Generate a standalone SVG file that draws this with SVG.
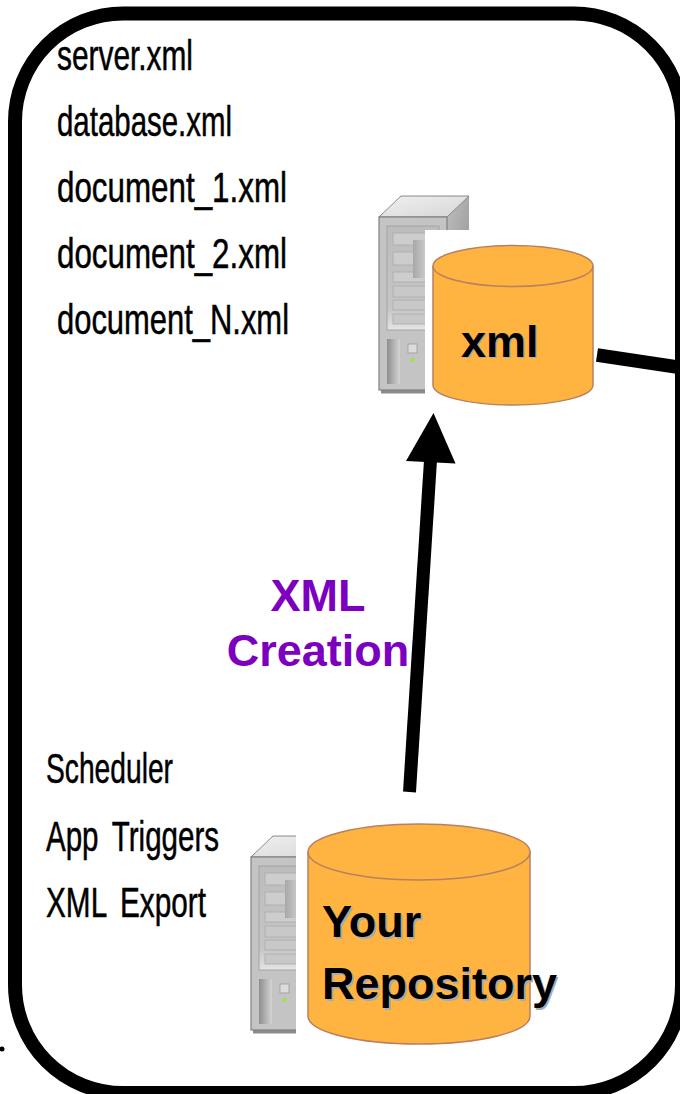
<svg xmlns="http://www.w3.org/2000/svg" width="680" height="1094" viewBox="0 0 680 1094">
<defs>
<filter id="soft" x="-5%" y="-5%" width="110%" height="110%"><feGaussianBlur stdDeviation="0.45"/></filter>
<linearGradient id="side" x1="0" y1="0" x2="1" y2="0"><stop offset="0" stop-color="#8e8e8e"/><stop offset="1" stop-color="#d4d4d4"/></linearGradient>
<linearGradient id="roof" x1="0" y1="0" x2="1" y2="1"><stop offset="0" stop-color="#f0f0f0"/><stop offset="1" stop-color="#d6d6d6"/></linearGradient>
<linearGradient id="wall" x1="0" y1="0" x2="1" y2="1"><stop offset="0" stop-color="#bdbdbd"/><stop offset="1" stop-color="#969696"/></linearGradient>
<linearGradient id="panel" x1="0" y1="0" x2="0" y2="1"><stop offset="0" stop-color="#bcbcbc"/><stop offset="0.8" stop-color="#c6c6c6"/><stop offset="1" stop-color="#e4e4e4"/></linearGradient>
<linearGradient id="drive" x1="0" y1="0" x2="1" y2="0"><stop offset="0" stop-color="#a8a8a8"/><stop offset="1" stop-color="#e2e2e2"/></linearGradient>
<g id="tower" filter="url(#soft)">
<path d="M68 21 L90 0 L90 72 L68 92 Z" fill="url(#wall)"/>
<path d="M0 21 L22 0 L90 0 L68 21 Z" fill="url(#roof)" stroke="#6e6e6e" stroke-width="0.8"/>
<path d="M2 194 h66 v3.5 h-66 z" fill="#8c8c8c"/>
<rect x="0" y="21" width="68" height="173" fill="#c4c4c4" stroke="#808080" stroke-width="1.2"/>
<rect x="8" y="30" width="52" height="104" fill="url(#panel)" stroke="#a4a4a4" stroke-width="1"/>
<rect x="14" y="37" width="42" height="12" fill="#cdcdcd" stroke="#aaa" stroke-width="0.8"/>
<rect x="14" y="56" width="42" height="13" fill="#cdcdcd" stroke="#aaa" stroke-width="0.8"/>
<rect x="14" y="76" width="42" height="10" fill="#cdcdcd" stroke="#aaa" stroke-width="0.8"/>
<rect x="14" y="90" width="42" height="11" fill="#c8c8c8" stroke="#aaa" stroke-width="0.8"/>
<rect x="14" y="104" width="42" height="10" fill="#c8c8c8" stroke="#aaa" stroke-width="0.8"/>
<rect x="14" y="118" width="42" height="10" fill="#c8c8c8" stroke="#aaa" stroke-width="0.8"/>
<rect x="34" y="44" width="22" height="38" fill="url(#drive)"/>
<rect x="8" y="143" width="13" height="45" fill="url(#side)"/>
<rect x="29" y="148" width="9" height="9" fill="#dcdcdc" stroke="#9c9c9c" stroke-width="0.8"/>
<circle cx="33.7" cy="163.7" r="2" fill="#a6e22e"/>
</g>
</defs>
<style>
.list{font-family:"Liberation Sans",Arial,sans-serif;font-size:42px;fill:#000;stroke:#000;stroke-width:0.5px}
.label{font-family:"Liberation Sans",Arial,sans-serif;font-weight:700;fill:#000;font-size:45px}
.shadow{font-family:"Liberation Sans",Arial,sans-serif;font-weight:700;fill:#a8acb4;font-size:45px}
.cyl{fill:#ffb340;stroke:#b98060;stroke-width:1.5}
.purple{font-family:"Liberation Sans",Arial,sans-serif;font-weight:700;font-size:45px;fill:#7b00bf;text-anchor:middle}
</style>
<rect width="680" height="1094" fill="#fff"/>

<g id="frame"><rect x="15" y="13.5" width="667" height="1079.5" rx="108" ry="108" fill="none" stroke="#000" stroke-width="14"/><circle cx="2" cy="1049" r="2.5" fill="#000"/></g>

<g id="file-list">
<text class="list" x="57" y="70" textLength="136" lengthAdjust="spacingAndGlyphs">server.xml</text>
<text class="list" x="57" y="136" textLength="175" lengthAdjust="spacingAndGlyphs">database.xml</text>
<text class="list" x="57" y="202" textLength="230" lengthAdjust="spacingAndGlyphs">document_1.xml</text>
<text class="list" x="57" y="268" textLength="230" lengthAdjust="spacingAndGlyphs">document_2.xml</text>
<text class="list" x="57" y="334" textLength="232" lengthAdjust="spacingAndGlyphs">document_N.xml</text>
</g>

<g id="xml-server">
<use href="#tower" x="379" y="196"/>
<rect x="425" y="230" width="172" height="178" fill="#fff"/>
<path class="cyl" d="M433 266 V385 C433 396 468 405 513 405 S593 396 593 385 V266"/>
<ellipse class="cyl" cx="513" cy="266" rx="80" ry="20.5"/>
<text class="shadow" x="462" y="358">xml</text>
<text class="label" x="461" y="357">xml</text>
</g>

<g id="xml-creation-label">
<text class="purple" x="318" y="611">XML</text>
<text class="purple" x="318" y="666">Creation</text>
</g>

<g id="triggers">
<text class="list" x="46" y="783" textLength="127" lengthAdjust="spacingAndGlyphs">Scheduler</text>
<text class="list" x="46" y="851" textLength="173" lengthAdjust="spacingAndGlyphs" word-spacing="8">App Triggers</text>
<text class="list" x="46" y="917" textLength="160" lengthAdjust="spacingAndGlyphs" word-spacing="8">XML Export</text>
</g>

<g id="repository">
<use href="#tower" x="251" y="836"/>
<rect x="296" y="823" width="240" height="225" fill="#fff"/>
<path class="cyl" d="M308 852 V1016 C308 1032 358 1044 419 1044 S530 1032 530 1016 V852"/>
<ellipse class="cyl" cx="419" cy="852" rx="111" ry="28"/>
<text class="shadow" x="323.5" y="938.5">Your</text>
<text class="label" x="322" y="937">Your</text>
<text class="shadow" x="323.5" y="1000.5">Repository</text>
<text class="label" x="322" y="999">Repository</text>
</g>

<g id="connectors">
<path d="M409.5 792 L430.5 460" fill="none" stroke="#000" stroke-width="13"/>
<polygon points="433.5,413 455.5,463.5 406,461" fill="#000"/>
<path d="M597 355 L677 367" fill="none" stroke="#000" stroke-width="13.5"/>
</g>
</svg>
